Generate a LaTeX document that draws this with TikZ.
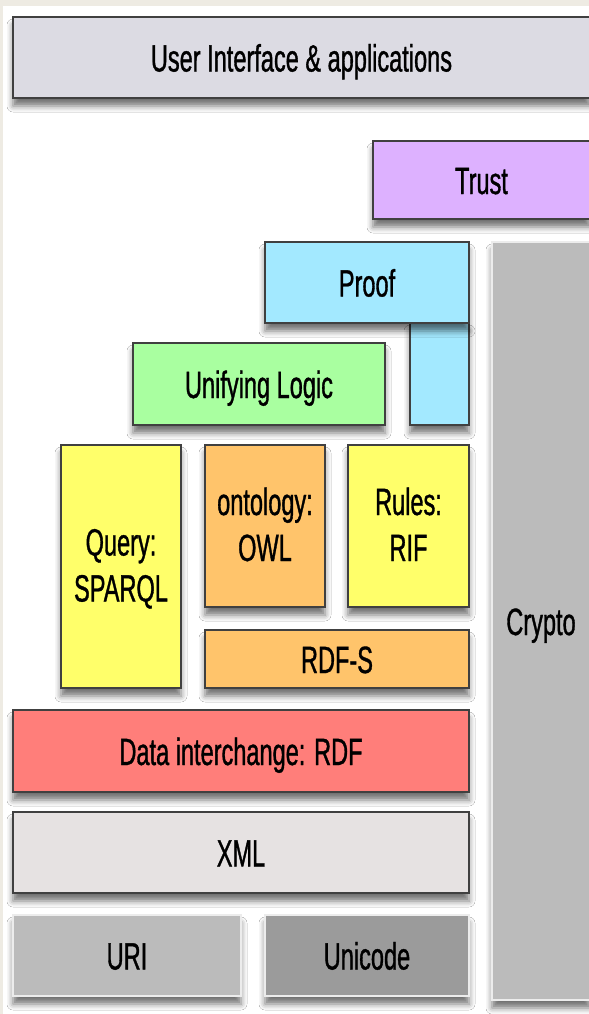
\documentclass[tikz,border=0pt]{standalone}
\usepackage{fontspec}
\newfontfamily\layerfont{Liberation Sans}[FakeStretch=0.62,FakeBold=0.9]
\usetikzlibrary{shadows,shadows.blur}

\definecolor{pagebg}{HTML}{EEEBE3}
\definecolor{uigray}{HTML}{DCDBE3}
\definecolor{trustlilac}{HTML}{DDB1FF}
\definecolor{proofblue}{HTML}{A3E9FF}
\definecolor{logicgreen}{HTML}{A9FFA0}
\definecolor{ruleyellow}{HTML}{FFFF6A}
\definecolor{owlorange}{HTML}{FFC46B}
\definecolor{rdfred}{HTML}{FF7E7A}
\definecolor{xmlgray}{HTML}{E6E2E2}
\definecolor{urigray}{HTML}{BBBBBB}
\definecolor{unigray}{HTML}{9B9B9B}

\tikzset{
  layer/.style={rectangle, draw=black!75, line width=0.75pt, inner sep=0pt, outer sep=0pt,
    align=center, font=\layerfont\fontsize{19}{23}\selectfont,
    text height=14pt, text depth=-6pt,
    blur shadow={shadow xshift=0pt, shadow yshift=-4pt, shadow blur radius=3pt, shadow opacity=55}},
  twoline/.style={layer, text height=35pt},
  flatlayer/.style={layer, draw=white!85!gray}
}

\begin{document}
\begin{tikzpicture}[x=0.5pt, y=-0.5pt]
  \useasboundingbox (0,0) rectangle (589,1014);
  \fill[pagebg] (0,0) rectangle (589,1014);
  \fill[white] (3,6) rectangle (589,1014);

  % top of the stack
  \node[layer, fill=uigray, minimum width=288.5pt, minimum height=40.5pt] (ui) at (301.5,57.5) {User Interface \& applications};
  \node[layer, fill=trustlilac, minimum width=108.5pt, minimum height=39pt] (trust) at (481.5,180) {Trust};
  \node[flatlayer, fill=urigray, minimum width=49pt, minimum height=379pt] (crypto) at (541,621) {Crypto};

  % proof and logic
  \node[layer, fill=proofblue, minimum width=29.5pt, minimum height=51pt] (proofleg) at (439.5,374) {};
  \node[layer, fill=proofblue, minimum width=102pt, minimum height=40.5pt] (proof) at (367,282.5) {Proof};
  \node[layer, fill=logicgreen, minimum width=126pt, minimum height=41pt] (logic) at (259,384) {Unifying Logic};

  % query, ontology, rules
  \node[twoline, fill=ruleyellow, minimum width=60pt, minimum height=121.5pt] (query) at (121,566.5) {Query:\\SPARQL};
  \node[twoline, fill=owlorange, minimum width=60pt, minimum height=81pt] (owl) at (265,526) {ontology:\\OWL};
  \node[twoline, fill=ruleyellow, minimum width=60.5pt, minimum height=81pt] (rif) at (408.5,526) {Rules:\\RIF};
  \node[layer, fill=owlorange, minimum width=132pt, minimum height=29pt] (rdfs) at (337,659) {RDF-S};

  % base layers
  \node[layer, fill=rdfred, minimum width=228pt, minimum height=41pt] (rdf) at (241,751) {Data interchange: RDF};
  \node[layer, fill=xmlgray, minimum width=228pt, minimum height=40.5pt] (xml) at (241,852.5) {XML};
  \node[flatlayer, fill=urigray, minimum width=114pt, minimum height=40.5pt] (uri) at (127,955.5) {URI};
  \node[flatlayer, fill=unigray, minimum width=102pt, minimum height=40.5pt] (unicode) at (367,955.5) {Unicode};
\end{tikzpicture}
\end{document}
